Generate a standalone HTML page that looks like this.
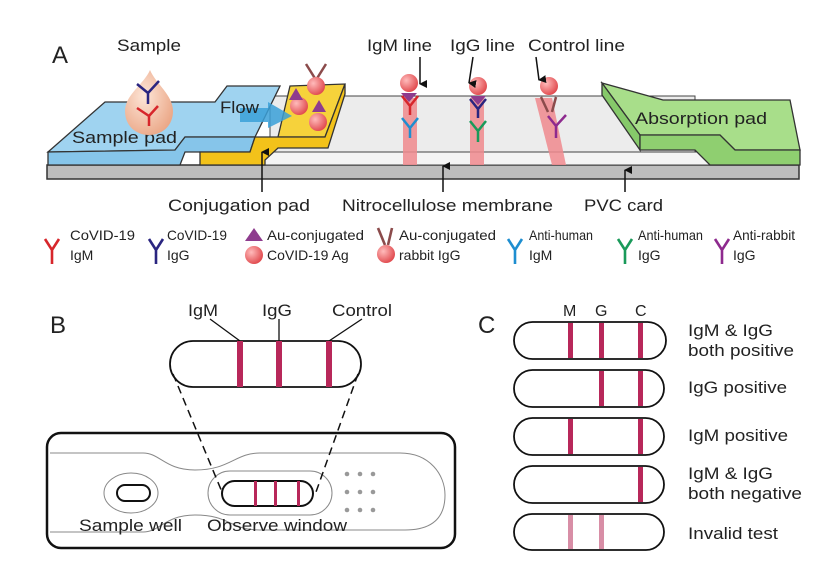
<!DOCTYPE html>
<html><head><style>body{margin:0;background:#fff}svg{display:block}text{font-family:"Liberation Sans",sans-serif;fill:#222}</style></head>
<body>
<svg width="836" height="561" viewBox="0 0 836 561" xmlns="http://www.w3.org/2000/svg">
<defs>
<radialGradient id="ball" cx="0.35" cy="0.35" r="0.7"><stop offset="0" stop-color="#fbb"/><stop offset="1" stop-color="#e0484c"/></radialGradient>
<radialGradient id="drop" cx="0.4" cy="0.4" r="0.7"><stop offset="0" stop-color="#fde6d8"/><stop offset="1" stop-color="#eaa483"/></radialGradient>
<marker id="ar" markerWidth="8" markerHeight="8" refX="4" refY="7" orient="auto" markerUnits="userSpaceOnUse"><path d="M0,0 L8,0 L4,8 z" fill="#111"/></marker>
<marker id="au" markerWidth="8" markerHeight="8" refX="4" refY="1" orient="auto" markerUnits="userSpaceOnUse"><path d="M0,8 L8,8 L4,0 z" fill="#111"/></marker>
</defs>
<!-- Panel A -->
<text x="52" y="63" font-size="24">A</text>
<text x="117" y="51" font-size="17" textLength="64" lengthAdjust="spacingAndGlyphs">Sample</text>
<text x="367" y="51" font-size="17" textLength="65" lengthAdjust="spacingAndGlyphs">IgM line</text>
<text x="450" y="51" font-size="17" textLength="65" lengthAdjust="spacingAndGlyphs">IgG line</text>
<text x="528" y="51" font-size="17" textLength="97" lengthAdjust="spacingAndGlyphs">Control line</text>
<!-- PVC card -->
<rect x="47" y="165" width="752" height="14" fill="#bdbdbd" stroke="#333" stroke-width="1.5"/>
<!-- membrane -->
<polygon points="270,96 695,96 695,152 270,152" fill="#ececec" stroke="#444" stroke-width="1"/>
<rect x="250" y="152" width="460" height="13" fill="#f4f4f4" stroke="#444" stroke-width="1"/>
<g fill="#f08a8e" opacity="0.85">
<rect x="403" y="98" width="14" height="67"/><rect x="470" y="98" width="14" height="67"/>
<polygon points="535,98 552,98 566,165 552,165"/>
</g>
<!-- sample pad -->
<polygon points="48,152 105,102 215,102 227,86 280,86 255,137 185,137 175,150" fill="#9fd3f0" stroke="#333" stroke-width="1.3"/>
<polygon points="48,152 175,150 185,137 255,137 250,152 185,152 180,165 48,165" fill="#86c5ea" stroke="#333" stroke-width="1.3"/>
<!-- conjugation pad -->
<polygon points="290,86 345,84 325,137 278,137" fill="#f6d23b" stroke="#333" stroke-width="1.3"/>
<polygon points="255,137 325,137 345,84 345,94 328,148 278,148 265,160 265,165 200,165 200,152 250,152" fill="#f3c21a" stroke="#333" stroke-width="1.3"/>
<polygon points="240,108 268,108 268,102 292,116 268,128 268,122 240,122" fill="#3aa0d8" opacity="0.85"/>
<text x="220" y="113" font-size="17" textLength="39" lengthAdjust="spacingAndGlyphs">Flow</text>
<text x="72" y="143" font-size="17" textLength="105" lengthAdjust="spacingAndGlyphs">Sample  pad</text>
<!-- drop -->
<path d="M150,70 C156,84 173,95 173,111 C173,126 162,135 149,135 C136,135 125,126 125,111 C125,95 144,84 150,70z" fill="url(#drop)"/>
<g fill="none" stroke-width="2.5"><path d="M137,84 L148,93 L159,81 M148,93 L148,104" stroke="#2a2580"/><path d="M137,108 L149,116 L158,106 M149,116 L149,126" stroke="#d7262b"/></g>
<!-- conjugates -->
<g fill="none" stroke="#8b4b4b" stroke-width="2.5"><path d="M306,64 L316,80 L326,64"/></g>
<circle cx="316" cy="86" r="9" fill="url(#ball)"/><circle cx="299" cy="106" r="9" fill="url(#ball)"/><circle cx="318" cy="122" r="9" fill="url(#ball)"/>
<polygon points="289,100 296,88 303,100" fill="#8e3c8e"/><polygon points="312,112 319,100 326,112" fill="#8e3c8e"/>
<!-- line molecules -->
<circle cx="409" cy="83" r="9" fill="url(#ball)"/><polygon points="401,93 417,93 409,102" fill="#8e3c8e"/>
<g fill="none" stroke-width="2.5"><path d="M402,96 L410,106 L418,96 M410,106 L410,115" stroke="#d7262b"/><path d="M402,118 L410,128 L418,118 M410,128 L410,138" stroke="#1e8ed0"/></g>
<circle cx="478" cy="86" r="9" fill="url(#ball)"/><polygon points="470,96 486,96 478,105" fill="#8e3c8e"/>
<g fill="none" stroke-width="2.5"><path d="M470,99 L478,109 L486,99 M478,109 L478,118" stroke="#2a2580"/><path d="M470,121 L478,131 L486,121 M478,131 L478,142" stroke="#1a9a5a"/></g>
<circle cx="549" cy="86" r="9" fill="url(#ball)"/>
<g fill="none" stroke-width="2.5"><path d="M541,97 L548,112 M556,97 L552,112" stroke="#8b4b4b"/><path d="M548,116 L556,126 L566,115 M556,126 L556,138" stroke="#8e2a8e"/></g>
<g stroke="#111" stroke-width="1.5"><line x1="420" y1="57" x2="420" y2="84" marker-end="url(#ar)"/><line x1="473" y1="57" x2="469" y2="83" marker-end="url(#ar)"/><line x1="536" y1="57" x2="539" y2="80" marker-end="url(#ar)"/></g>
<!-- absorption pad -->
<polygon points="602,83 663,100 790,100 800,150 735,150 720,135 640,135" fill="#a8de8a" stroke="#333" stroke-width="1.3"/>
<polygon points="602,83 640,135 640,150 602,95" fill="#86c96a" stroke="#333" stroke-width="1.3"/>
<polygon points="640,135 720,135 735,150 800,150 800,165 710,165 695,150 640,150" fill="#8fcf70" stroke="#333" stroke-width="1.3"/>
<text x="635" y="124" font-size="17" textLength="132" lengthAdjust="spacingAndGlyphs">Absorption  pad</text>
<!-- bottom labels -->
<g stroke="#111" stroke-width="1.5"><line x1="262" y1="192" x2="262" y2="152" marker-end="url(#au)"/><line x1="443" y1="192" x2="443" y2="166" marker-end="url(#au)"/><line x1="625" y1="192" x2="625" y2="170" marker-end="url(#au)"/></g>
<text x="168" y="211" font-size="17" textLength="142" lengthAdjust="spacingAndGlyphs">Conjugation  pad</text>
<text x="342" y="211" font-size="17" textLength="211" lengthAdjust="spacingAndGlyphs">Nitrocellulose membrane</text>
<text x="584" y="211" font-size="17" textLength="79" lengthAdjust="spacingAndGlyphs">PVC card</text>
<!-- legend -->
<g font-size="14">
<g fill="none" stroke-width="2.6">
<path d="M45,239 L52,250 L59,239 M52,250 L52,264" stroke="#d7262b"/>
<path d="M149,239 L156,250 L163,239 M156,250 L156,264" stroke="#2a2580"/>
<path d="M378,228 L385,245 M392,228 L388,245" stroke="#8b4b4b"/>
<path d="M508,239 L515,250 L522,239 M515,250 L515,264" stroke="#1e8ed0"/>
<path d="M618,239 L625,250 L632,239 M625,250 L625,264" stroke="#1a9a5a"/>
<path d="M715,239 L722,250 L729,239 M722,250 L722,264" stroke="#8e2a8e"/>
</g>
<polygon points="245,241 254,228 263,241" fill="#8e3c8e"/><circle cx="254" cy="255" r="9" fill="url(#ball)"/>
<circle cx="386" cy="254" r="9" fill="url(#ball)"/>
<text x="70" y="240" textLength="65" lengthAdjust="spacingAndGlyphs">CoVID-19</text><text x="70" y="260">IgM</text>
<text x="167" y="240" textLength="60" lengthAdjust="spacingAndGlyphs">CoVID-19</text><text x="167" y="260">IgG</text>
<text x="267" y="240" textLength="97" lengthAdjust="spacingAndGlyphs">Au-conjugated</text><text x="267" y="260">CoVID-19 Ag</text>
<text x="399" y="240" textLength="97" lengthAdjust="spacingAndGlyphs">Au-conjugated</text><text x="399" y="260">rabbit IgG</text>
<text x="529" y="240" textLength="64" lengthAdjust="spacingAndGlyphs">Anti-human</text><text x="529" y="260">IgM</text>
<text x="638" y="240" textLength="65" lengthAdjust="spacingAndGlyphs">Anti-human</text><text x="638" y="260">IgG</text>
<text x="733" y="240" textLength="62" lengthAdjust="spacingAndGlyphs">Anti-rabbit</text><text x="733" y="260">IgG</text>
</g>
<!-- Panel B -->
<text x="50" y="333" font-size="24">B</text>
<text x="188" y="316" font-size="17" textLength="30" lengthAdjust="spacingAndGlyphs">IgM</text><text x="262" y="316" font-size="17" textLength="30" lengthAdjust="spacingAndGlyphs">IgG</text><text x="332" y="316" font-size="17" textLength="60" lengthAdjust="spacingAndGlyphs">Control</text>
<g stroke="#111" stroke-width="1.3" fill="none"><path d="M210,319 L240,341"/><path d="M279,319 L279,341"/><path d="M362,319 L329,341"/></g>
<rect x="170" y="341" width="191" height="46" rx="23" fill="#fff" stroke="#111" stroke-width="1.8"/>
<g fill="#b8285a"><rect x="237" y="341" width="6" height="46"/><rect x="276" y="341" width="6" height="46"/><rect x="326" y="341" width="6" height="46"/></g>
<rect x="47" y="433" width="408" height="115" rx="14" fill="#fff" stroke="#111" stroke-width="2.5"/>
<path d="M50,453 L143,453 C160,453 165,470 195,470 C230,470 235,453 260,453 L400,453 C430,453 445,475 445,495 C445,520 430,530 405,530 L260,530 C230,530 230,515 195,515 C165,515 160,532 143,532 L50,532" fill="none" stroke="#888" stroke-width="1"/>
<ellipse cx="131" cy="493" rx="27" ry="20" fill="none" stroke="#888" stroke-width="1"/>
<rect x="117" y="485" width="33" height="16" rx="8" fill="none" stroke="#111" stroke-width="2"/>
<rect x="208" y="471" width="124" height="44" rx="22" fill="none" stroke="#888" stroke-width="1"/>
<rect x="222" y="481" width="91" height="25" rx="12.5" fill="#fff" stroke="#111" stroke-width="2"/>
<g fill="#b8285a"><rect x="254" y="481" width="3" height="25"/><rect x="274" y="481" width="3" height="25"/><rect x="297" y="481" width="3" height="25"/></g>
<g fill="#999"><circle cx="347" cy="474" r="2.3"/><circle cx="360" cy="474" r="2.3"/><circle cx="373" cy="474" r="2.3"/><circle cx="347" cy="492" r="2.3"/><circle cx="360" cy="492" r="2.3"/><circle cx="373" cy="492" r="2.3"/><circle cx="347" cy="510" r="2.3"/><circle cx="360" cy="510" r="2.3"/><circle cx="373" cy="510" r="2.3"/></g>
<g stroke="#111" stroke-width="1.5" stroke-dasharray="8,5"><line x1="173" y1="374" x2="222" y2="492"/><line x1="358" y1="374" x2="316" y2="492"/></g>
<text x="79" y="531" font-size="17" textLength="103" lengthAdjust="spacingAndGlyphs">Sample well</text><text x="207" y="531" font-size="17" textLength="140" lengthAdjust="spacingAndGlyphs">Observe window</text>
<!-- Panel C -->
<text x="478" y="333" font-size="24">C</text>
<text x="563" y="316" font-size="16">M</text><text x="595" y="316" font-size="16">G</text><text x="635" y="316" font-size="16">C</text>
<g fill="#fff" stroke="#111" stroke-width="1.8">
<rect x="514" y="322" width="152" height="37" rx="18.5"/><rect x="514" y="370" width="150" height="37" rx="18.5"/><rect x="514" y="418" width="150" height="37" rx="18.5"/><rect x="514" y="466" width="150" height="37" rx="18.5"/><rect x="514" y="514" width="150" height="36" rx="18"/>
</g>
<g fill="#b8285a">
<rect x="568" y="323" width="5" height="35"/><rect x="599" y="323" width="5" height="35"/><rect x="638" y="323" width="5" height="35"/>
<rect x="599" y="371" width="5" height="35"/><rect x="638" y="371" width="5" height="35"/>
<rect x="568" y="419" width="5" height="35"/><rect x="638" y="419" width="5" height="35"/>
<rect x="638" y="467" width="5" height="35"/>
</g>
<g fill="#d88ea6"><rect x="568" y="515" width="5" height="34"/><rect x="599" y="515" width="5" height="34"/></g>
<g font-size="17">
<text x="688" y="336" textLength="85" lengthAdjust="spacingAndGlyphs">IgM &amp; IgG</text><text x="688" y="356" textLength="106" lengthAdjust="spacingAndGlyphs">both positive</text>
<text x="688" y="393" textLength="99" lengthAdjust="spacingAndGlyphs">IgG positive</text>
<text x="688" y="441" textLength="100" lengthAdjust="spacingAndGlyphs">IgM positive</text>
<text x="688" y="479" textLength="85" lengthAdjust="spacingAndGlyphs">IgM &amp; IgG</text><text x="688" y="499" textLength="114" lengthAdjust="spacingAndGlyphs">both negative</text>
<text x="688" y="539" textLength="90" lengthAdjust="spacingAndGlyphs">Invalid test</text>
</g>
</svg>
</body></html>
